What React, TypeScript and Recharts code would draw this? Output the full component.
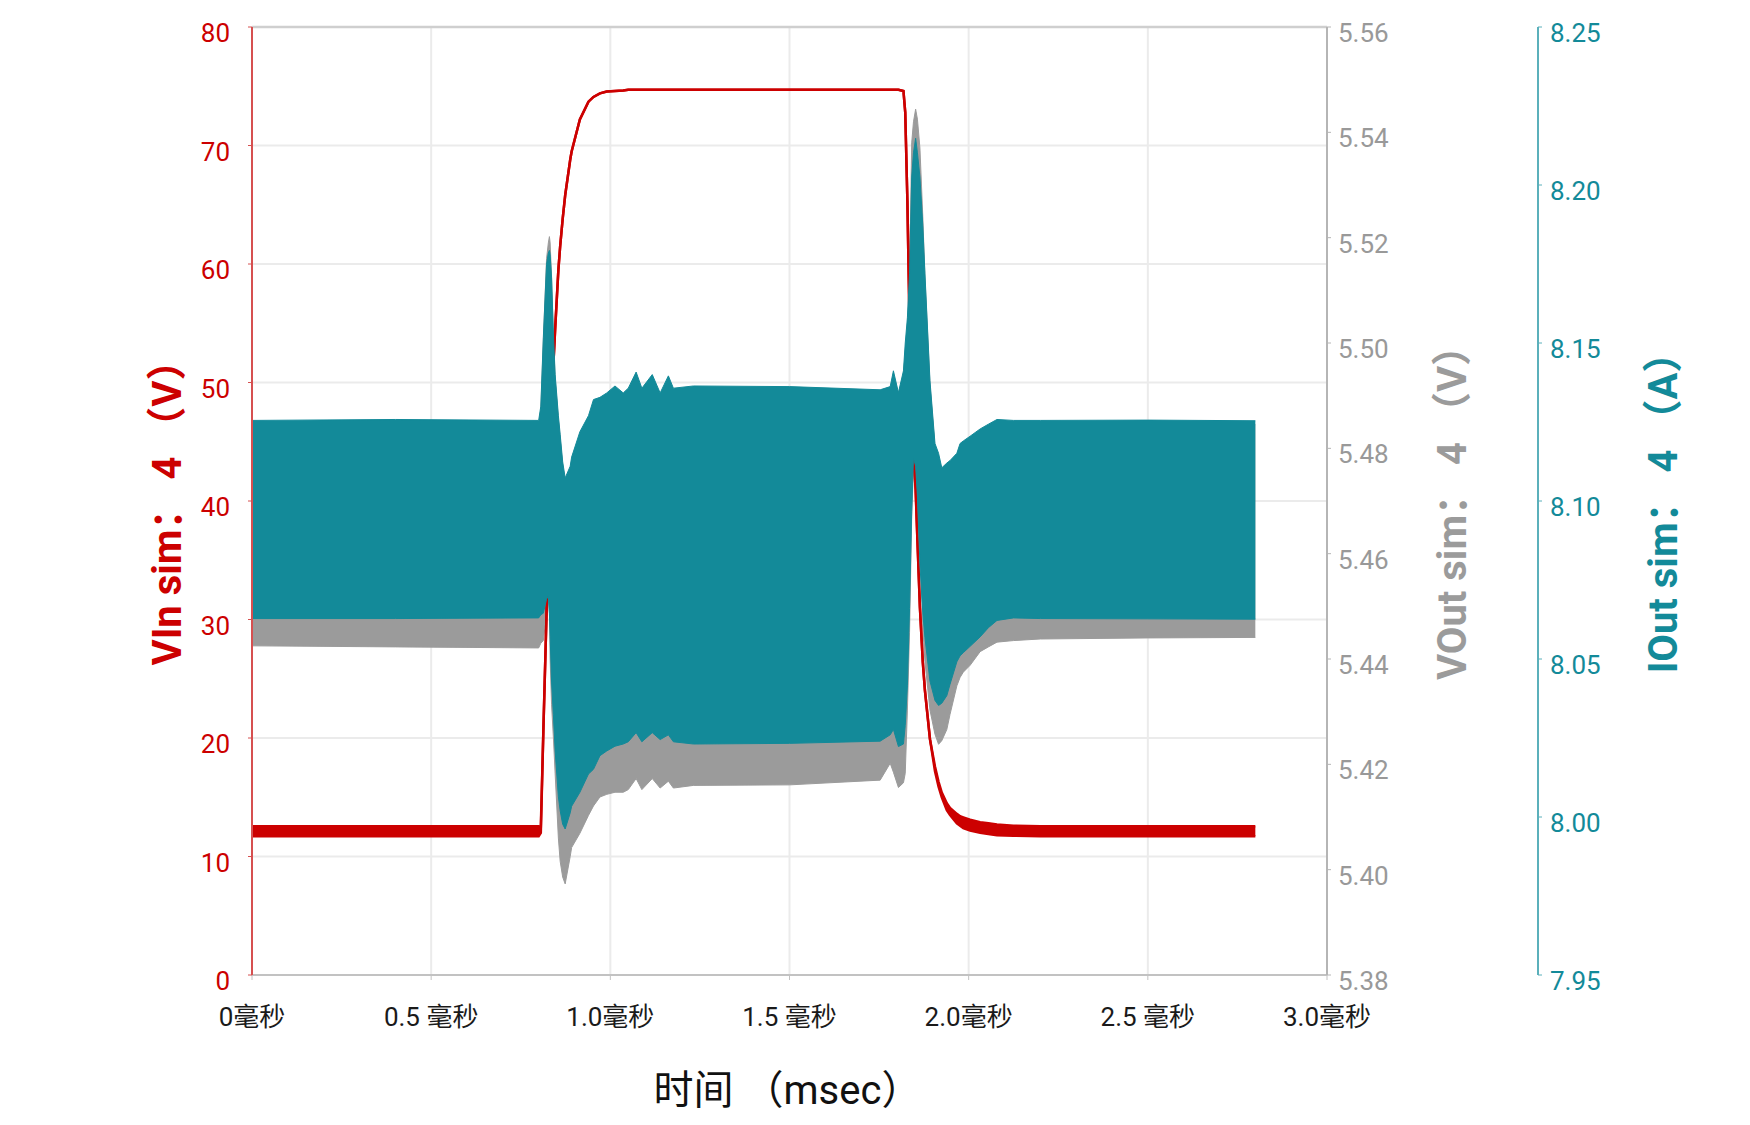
import { ComposedChart, Area, XAxis, YAxis, CartesianGrid, ReferenceLine } from "recharts";

const FONT = "Roboto, 'Noto Sans CJK SC', sans-serif";

const RED = "#cc0000";
const GRAY = "#9b9b9b";
const TEAL = "#138a99";

// time in msec
const TIME_MS = [
  0, 0.4, 0.8, 0.806, 0.813, 0.822, 0.827, 0.83, 0.832, 0.836, 0.841, 0.846, 0.855, 0.86, 0.867,
  0.874, 0.888, 0.892, 0.915, 0.939, 0.953, 0.971, 0.99, 1.013, 1.036, 1.05, 1.072, 1.088, 1.117,
  1.139, 1.162, 1.176, 1.232, 1.5, 1.753, 1.781, 1.79, 1.804, 1.818, 1.823, 1.829, 1.835, 1.841,
  1.846, 1.852, 1.857, 1.864, 1.872, 1.878, 1.892, 1.906, 1.916, 1.925, 1.939, 1.948, 1.967, 1.976,
  1.985, 2.004, 2.032, 2.055, 2.079, 2.125, 2.2, 2.5, 2.8,
];

// VIn envelope (V)
const VIN_LO = [
  11.7, 11.7, 11.7, 12.0, 20.5, 30.5, 36.5, 40.0, 42.5, 47.0, 51.5, 54.5, 59.5, 61.5, 63.8,
  65.8, 68.8, 69.5, 72.2, 73.7, 74.1, 74.4, 74.55, 74.6, 74.65, 74.7, 74.7, 74.7, 74.7,
  74.7, 74.7, 74.7, 74.7, 74.7, 74.7, 74.7, 74.7, 74.7, 74.6, 72.8, 65.3, 55.0, 47.5,
  44.0, 41.0, 36.7, 31.0, 26.4, 24.0, 19.9, 17.2, 15.9, 15.0, 13.9, 13.5, 12.8, 12.6,
  12.4, 12.2, 12.0, 11.9, 11.8, 11.75, 11.7, 11.7, 11.7,
];
const VIN_HI = [
  12.55, 12.55, 12.55, 12.5, 20.5, 30.5, 36.5, 40.0, 42.5, 47.0, 51.5, 54.5, 59.5, 61.5, 63.8,
  65.8, 68.8, 69.5, 72.2, 73.7, 74.1, 74.4, 74.55, 74.6, 74.65, 74.7, 74.7, 74.7, 74.7,
  74.7, 74.7, 74.7, 74.7, 74.7, 74.7, 74.7, 74.7, 74.7, 74.6, 72.8, 65.3, 55.0, 47.5,
  44.0, 41.0, 36.7, 31.0, 26.4, 24.0, 19.9, 17.6, 16.3, 15.4, 14.5, 14.1, 13.6, 13.4,
  13.3, 13.1, 12.9, 12.8, 12.7, 12.6, 12.55, 12.55, 12.55,
];

// VOut envelope (V)
const VOUT_LO = [
  5.4425, 5.4423, 5.4421, 5.443, 5.4435, 5.4487, 5.4513, 5.4487, 5.44, 5.4313, 5.4252, 5.4182, 5.406, 5.4016, 5.3986,
  5.3973, 5.4025, 5.4042, 5.4069, 5.4103, 5.4121, 5.4138, 5.4143, 5.4147, 5.4147, 5.4152, 5.4173, 5.4152, 5.4173,
  5.4155, 5.4168, 5.4155, 5.416, 5.4161, 5.417, 5.4202, 5.4185, 5.4156, 5.4165, 5.4183, 5.4303, 5.445, 5.4671,
  5.4763, 5.4763, 5.4699, 5.4625, 5.4459, 5.4395, 5.4303, 5.4257, 5.4238, 5.4245, 5.4266, 5.4295, 5.4349, 5.4365,
  5.4375, 5.4388, 5.4414, 5.4423, 5.4432, 5.4435, 5.4438, 5.444, 5.4441,
];
const VOUT_HI = [
  5.4845, 5.4847, 5.4845, 5.4873, 5.5003, 5.516, 5.519, 5.5202, 5.519, 5.5125, 5.5012, 5.4933, 5.4855, 5.482, 5.4767,
  5.4737, 5.4759, 5.4776, 5.4824, 5.4855, 5.4886, 5.489, 5.4898, 5.4911, 5.4898, 5.4907, 5.4938, 5.4907, 5.4933,
  5.4898, 5.4931, 5.4907, 5.4911, 5.491, 5.4904, 5.491, 5.494, 5.4899, 5.494, 5.4983, 5.5031, 5.5125, 5.538,
  5.542, 5.5444, 5.5425, 5.537, 5.524, 5.5125, 5.4922, 5.4802, 5.4784, 5.4756, 5.4765, 5.477, 5.4784, 5.4802,
  5.4807, 5.4816, 5.483, 5.4839, 5.4848, 5.4846, 5.4846, 5.4846, 5.4845,
];

// IOut envelope (A)
const IOUT_LO = [
  8.0628, 8.0628, 8.063, 8.064, 8.0645, 8.0689, 8.07, 8.0645, 8.0572, 8.0427, 8.0325, 8.0209, 8.0064, 8.002, 7.9977,
  7.9962, 8.0013, 8.0034, 8.0078, 8.0136, 8.0151, 8.0194, 8.0209, 8.0224, 8.0231, 8.0238, 8.0267, 8.0238, 8.0267,
  8.0245, 8.026, 8.0238, 8.0231, 8.0233, 8.024, 8.026, 8.0277, 8.0223, 8.0231, 8.029, 8.0415, 8.066, 8.0967,
  8.1136, 8.111, 8.1013, 8.0798, 8.0646, 8.0568, 8.043, 8.0369, 8.0353, 8.036, 8.0384, 8.042, 8.0491, 8.051,
  8.052, 8.054, 8.057, 8.0599, 8.0622, 8.063, 8.0628, 8.0627, 8.0626,
];
const IOUT_HI = [
  8.1255, 8.1258, 8.1255, 8.13, 8.1517, 8.1749, 8.1785, 8.1793, 8.178, 8.1706, 8.1532, 8.14, 8.127, 8.1211, 8.1124,
  8.1073, 8.111, 8.1139, 8.1219, 8.127, 8.1321, 8.1328, 8.1342, 8.1364, 8.1342, 8.1357, 8.1408, 8.1357, 8.14,
  8.1342, 8.1396, 8.1357, 8.1364, 8.1362, 8.1352, 8.1362, 8.1412, 8.1343, 8.1412, 8.15, 8.158, 8.1719, 8.2025,
  8.2102, 8.2148, 8.2102, 8.2025, 8.1872, 8.1719, 8.1381, 8.1182, 8.1151, 8.1105, 8.112, 8.1128, 8.1151, 8.1182,
  8.119, 8.1205, 8.1228, 8.1243, 8.1258, 8.1255, 8.1255, 8.1256, 8.1254,
];

const X_TICKS = [0, 0.5, 1, 1.5, 2, 2.5, 3];
const X_TICK_LABELS = ["0毫秒", "0.5 毫秒", "1.0毫秒", "1.5 毫秒", "2.0毫秒", "2.5 毫秒", "3.0毫秒"];
const VIN_TICKS = [0, 10, 20, 30, 40, 50, 60, 70, 80];
const VOUT_TICKS = [5.38, 5.4, 5.42, 5.44, 5.46, 5.48, 5.5, 5.52, 5.54, 5.56];
const IOUT_TICKS = [7.95, 8.0, 8.05, 8.1, 8.15, 8.2, 8.25];

const data = TIME_MS.map((t, i) => ({
  t,
  vin: [VIN_LO[i], VIN_HI[i]],
  vout: [VOUT_LO[i], VOUT_HI[i]],
  iout: [IOUT_LO[i], IOUT_HI[i]],
}));

function yTick(color: string, anchor: string, digits: number) {
  return (props: any) => (
    <text
      x={props.x}
      y={props.y}
      dy={15}
      textAnchor={anchor}
      fill={color}
      fontSize={26}
      fontFamily={FONT}
    >
      {Number(props.payload.value).toFixed(digits)}
    </text>
  );
}

function XTick(props: any) {
  const idx = X_TICKS.indexOf(props.payload.value);
  return (
    <text x={props.x} y={props.y} dy={46} textAnchor="middle" fill="#1a1a1a" fontSize={26} fontFamily={FONT}>
      {X_TICK_LABELS[idx]}
    </text>
  );
}

// rotated axis title; baseX is offset of the text baseline from the axis box left edge
function yTitle(text: string, color: string, baseX: number) {
  return (props: any) => {
    const vb = props.viewBox;
    const x = vb.x + baseX;
    const y = vb.y + vb.height / 2 + 2;
    return (
      <text
        x={x}
        y={y}
        transform={`rotate(-90 ${x} ${y})`}
        textAnchor="middle"
        fill={color}
        fontSize={40}
        fontWeight={700}
        fontFamily={FONT}
      >
        {text}
      </text>
    );
  };
}

function xTitle(props: any) {
  const vb = props.viewBox;
  return (
    <text
      x={vb.x + vb.width / 2 - 2}
      y={vb.y + 129}
      textAnchor="middle"
      fill="#111"
      fontSize={40}
      fontFamily={FONT}
    >
      时间 （msec）
    </text>
  );
}

export default function App() {
  return (
    <div style={{ position: "absolute", left: 0, top: 0, width: 1750, height: 1125, background: "#fff", fontFamily: FONT }}>
      <ComposedChart width={1750} height={1125} data={data} margin={{ top: 27, right: 0, bottom: 0, left: 0 }}>
        <CartesianGrid yAxisId="vin" stroke="#ebebeb" strokeWidth={2} />
        <XAxis
          dataKey="t"
          type="number"
          domain={[0, 3]}
          ticks={X_TICKS}
          interval={0}
          height={150}
          tickSize={5}
          tickMargin={0}
          axisLine={{ stroke: "#c2c2c2", strokeWidth: 2 }}
          tickLine={{ stroke: "#c2c2c2" }}
          tick={<XTick />}
          label={xTitle}
        />
        <YAxis
          yAxisId="vin"
          orientation="left"
          width={252}
          domain={[0, 80]}
          ticks={VIN_TICKS}
          interval={0}
          allowDataOverflow
          tickSize={4}
          tickMargin={18}
          axisLine={{ stroke: "#d65050", strokeWidth: 2 }}
          tickLine={{ stroke: "#d65050" }}
          tick={yTick(RED, "end", 0)}
          label={yTitle("VIn sim： 4 （V）", RED, 181)}
        />
        <YAxis
          yAxisId="r1vout"
          orientation="right"
          width={211}
          domain={[5.38, 5.56]}
          ticks={VOUT_TICKS}
          interval={0}
          allowDataOverflow
          tickSize={4}
          tickMargin={7}
          axisLine={{ stroke: "#b5b5b5", strokeWidth: 2 }}
          tickLine={{ stroke: "#b5b5b5" }}
          tick={yTick("#999999", "start", 2)}
          label={yTitle("VOut sim： 4 （V）", GRAY, 139)}
        />
        <YAxis
          yAxisId="r2iout"
          orientation="right"
          width={212}
          domain={[7.95, 8.25]}
          ticks={IOUT_TICKS}
          interval={0}
          allowDataOverflow
          tickSize={4}
          tickMargin={8}
          axisLine={{ stroke: "#5bb0bb", strokeWidth: 2 }}
          tickLine={{ stroke: "#5bb0bb" }}
          tick={yTick(TEAL, "start", 2)}
          label={yTitle("IOut sim： 4 （A）", TEAL, 139)}
        />
        <ReferenceLine yAxisId="vin" y={80} stroke="#cfcfcf" strokeWidth={2.5} />
        <Area
          yAxisId="r1vout"
          dataKey="vout"
          type="linear"
          stroke={GRAY}
          strokeWidth={1}
          fill={GRAY}
          fillOpacity={1}
          dot={false}
          activeDot={false}
          isAnimationActive={false}
        />
        <Area
          yAxisId="vin"
          dataKey="vin"
          type="linear"
          stroke={RED}
          strokeWidth={2.5}
          fill={RED}
          fillOpacity={1}
          dot={false}
          activeDot={false}
          isAnimationActive={false}
        />
        <Area
          yAxisId="r2iout"
          dataKey="iout"
          type="linear"
          stroke={TEAL}
          strokeWidth={1}
          fill={TEAL}
          fillOpacity={1}
          dot={false}
          activeDot={false}
          isAnimationActive={false}
        />
      </ComposedChart>
    </div>
  );
}
